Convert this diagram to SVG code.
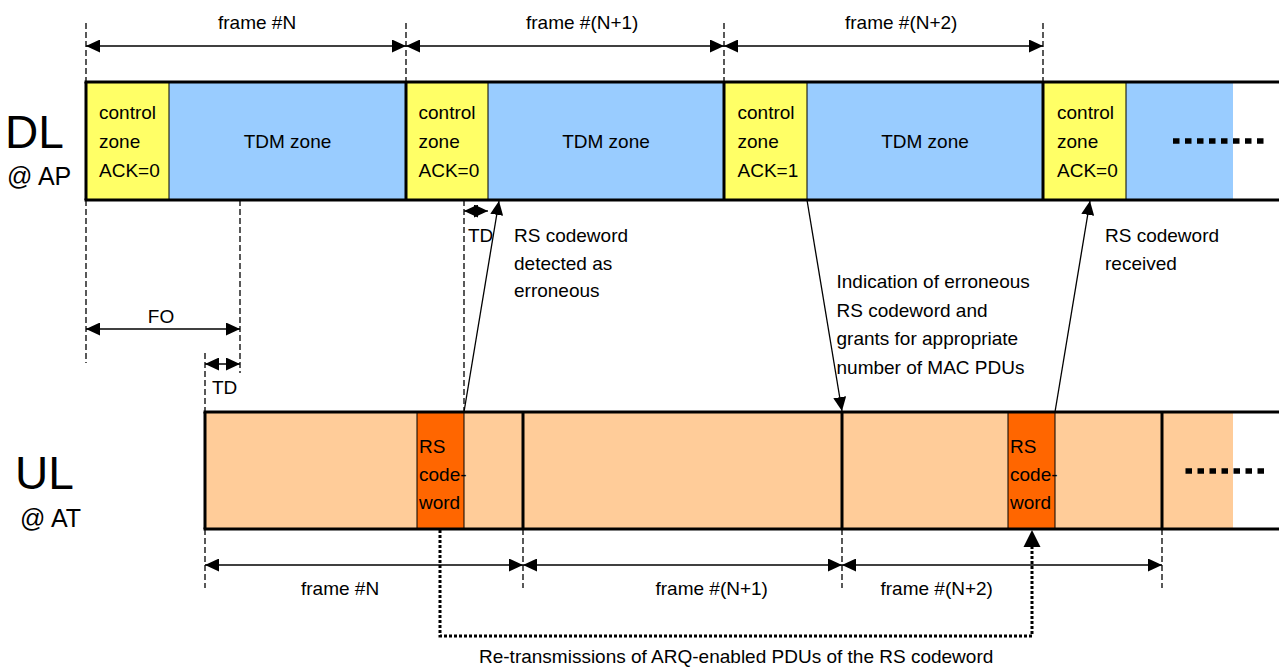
<svg xmlns="http://www.w3.org/2000/svg" width="1279" height="668" viewBox="0 0 1279 668">
<style>
text{font-family:"Liberation Sans",Arial,sans-serif;font-size:19px;fill:#000}
.big{font-size:46px}
.sub{font-size:25px}
.mid{text-anchor:middle}
.ctl{fill:#FFFF66}
.tdm{fill:#99CCFF}
.ul{fill:#FFCC99}
.rs{fill:#FF6600;stroke:#000;stroke-width:1}
.thick{stroke:#000;stroke-width:3;fill:none}
.thin{stroke:#000;stroke-width:1;fill:none}
.dash{stroke:#000;stroke-width:1.3;stroke-dasharray:6 3;fill:none}
.dim{stroke:#000;stroke-width:1.3;fill:none;marker-start:url(#ah);marker-end:url(#ah)}
.sig{stroke:#000;stroke-width:1.3;fill:none;marker-end:url(#ah)}
.more{stroke:#000;stroke-width:5.5;stroke-dasharray:6.5 5.5;fill:none}
.dot{stroke:#000;stroke-width:3;stroke-dasharray:3 2;fill:none}
</style>
<defs>
<marker id="ah" viewBox="0 0 14 13" refX="14" refY="6.5" markerWidth="14" markerHeight="13" markerUnits="userSpaceOnUse" orient="auto-start-reverse">
<path d="M0,0 L14,6.5 L0,13 z" fill="#000"/>
</marker>
</defs>

<g id="labels">
<text class="big" x="5" y="148">DL</text>
<text class="sub" x="7" y="185">@ AP</text>
<text class="big" x="15" y="489">UL</text>
<text class="sub" x="20" y="527">@ AT</text>
</g>

<g id="dl-bar">
<rect class="ctl" x="86" y="82" width="83" height="118"/>
<rect class="tdm" x="169" y="82" width="237" height="118"/>
<rect class="ctl" x="406" y="82" width="82" height="118"/>
<rect class="tdm" x="488" y="82" width="236" height="118"/>
<rect class="ctl" x="724" y="82" width="83" height="118"/>
<rect class="tdm" x="807" y="82" width="236" height="118"/>
<rect class="ctl" x="1043" y="82" width="83" height="118"/>
<rect class="tdm" x="1126" y="82" width="107" height="118"/>
<path class="thin" d="M169,82V200M488,82V200M807,82V200M1126,82V200"/>
<path class="thick" d="M86,82V200M406,82V200M724,82V200M1043,82V200"/>
<path class="thick" d="M84.5,82H1279M84.5,200H1279"/>
<path class="more" d="M1173,141H1264"/>
</g>

<g id="dl-frame-n">
<text x="99" y="119">control</text><text x="99" y="148">zone</text><text x="99" y="177">ACK=0</text>
<text class="mid" x="287.5" y="148">TDM zone</text>
</g>
<g id="dl-frame-n1">
<text x="418.5" y="119">control</text><text x="418.5" y="148">zone</text><text x="418.5" y="177">ACK=0</text>
<text class="mid" x="606" y="148">TDM zone</text>
</g>
<g id="dl-frame-n2">
<text x="737.5" y="119">control</text><text x="737.5" y="148">zone</text><text x="737.5" y="177">ACK=1</text>
<text class="mid" x="925" y="148">TDM zone</text>
</g>
<g id="dl-frame-n3">
<text x="1057" y="119">control</text><text x="1057" y="148">zone</text><text x="1057" y="177">ACK=0</text>
</g>

<g id="ul-bar">
<rect class="ul" x="205" y="412" width="1028" height="117"/>
<rect class="rs" x="417" y="412" width="47" height="117"/>
<rect class="rs" x="1008" y="412" width="47" height="117"/>
<path class="thick" d="M205,412V529M523,412V529M842,412V529M1162,412V529"/>
<path class="thick" d="M203.5,412H1279M203.5,529H1279"/>
<path class="more" d="M1185.5,471H1264"/>
<text x="419" y="453">RS</text><text x="419" y="481">code-</text><text x="419" y="509">word</text>
<text x="1010" y="453">RS</text><text x="1010" y="481">code-</text><text x="1010" y="509">word</text>
</g>

<g id="connectors">
<path class="dash" d="M86,23V82M406,23V82M724,23V82M1043,23V82"/>
<path class="dash" d="M86,200V363M240,200V373M205,353V412M464,200V412"/>
<path class="dash" d="M205,529V588M523,529V588M842,529V588M1162,529V588"/>
<path class="dim" d="M86,46H406"/>
<path class="dim" d="M406,46H724"/>
<path class="dim" d="M724,46H1043"/>
<path class="dim" d="M86,329H240"/>
<path class="dim" d="M205,364H240"/>
<path class="dim" d="M464,211H488"/>
<path class="dim" d="M205,565H523"/>
<path class="dim" d="M523,565H842"/>
<path class="dim" d="M842,565H1162"/>
<path class="sig" d="M464,412L499,201"/>
<path class="sig" d="M807,200L842,411"/>
<path class="sig" d="M1055,412L1090,201"/>
<path class="dot" d="M440,530V636H1032V547"/>
<polygon points="1032,530 1023.5,547 1040.5,547" fill="#000"/>
</g>

<g id="annotations">
<text x="218" y="29">frame #N</text>
<text x="526" y="29">frame #(N+1)</text>
<text x="845" y="29">frame #(N+2)</text>
<text class="mid" x="161" y="323">FO</text>
<text x="212" y="394">TD</text>
<text x="468" y="242">TD</text>
<text x="514" y="242">RS codeword</text>
<text x="514" y="269.5">detected as</text>
<text x="514" y="297">erroneous</text>
<text x="836.5" y="288">Indication of erroneous</text>
<text x="836.5" y="316.5">RS codeword and</text>
<text x="836.5" y="345">grants for appropriate</text>
<text x="836.5" y="373.5">number of MAC PDUs</text>
<text x="1105" y="242">RS codeword</text>
<text x="1105" y="269.5">received</text>
<text x="301" y="595">frame #N</text>
<text x="655.5" y="595">frame #(N+1)</text>
<text x="880.5" y="595">frame #(N+2)</text>
<text x="479" y="663">Re-transmissions of ARQ-enabled PDUs of the RS codeword</text>
</g>
</svg>
